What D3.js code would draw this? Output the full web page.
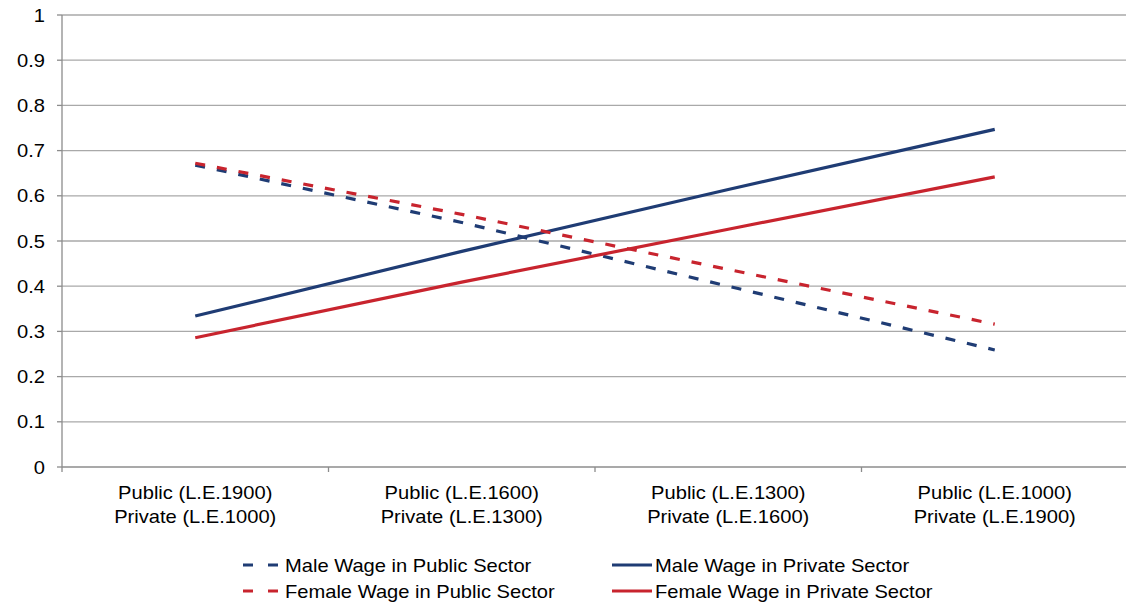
<!DOCTYPE html>
<html><head><meta charset="utf-8">
<script src="https://cdn.jsdelivr.net/npm/d3@7"></script>
<style>body{margin:0;background:#fff}svg{display:block}text{font-family:"Liberation Sans",Arial,sans-serif;fill:#000}</style>
</head><body><svg id="c" width="1126" height="605"></svg>
<script>
const categories = [["Public (L.E.1900)","Private (L.E.1000)"],["Public (L.E.1600)","Private (L.E.1300)"],["Public (L.E.1300)","Private (L.E.1600)"],["Public (L.E.1000)","Private (L.E.1900)"]];
const maleWagePublic = [0.668, 0.541, 0.400, 0.259];
const femaleWagePublic = [0.672, 0.559, 0.437, 0.316];
const maleWagePrivate = [0.334, 0.477, 0.614, 0.747];
const femaleWagePrivate = [0.286, 0.409, 0.526, 0.642];
const yTicks = [0,0.1,0.2,0.3,0.4,0.5,0.6,0.7,0.8,0.9,1];
const yTickLabels = ["0","0.1","0.2","0.3","0.4","0.5","0.6","0.7","0.8","0.9","1"];
const seriesNames = ["Male Wage in Public Sector","Male Wage in Private Sector","Female Wage in Public Sector","Female Wage in Private Sector"];

const BLUE="#1F3C74", RED="#C8242E";
const series = [
 {name:seriesNames[0], values:maleWagePublic, color:BLUE, dash:"10,12"},
 {name:seriesNames[1], values:maleWagePrivate, color:BLUE, dash:null},
 {name:seriesNames[2], values:femaleWagePublic, color:RED, dash:"10,12"},
 {name:seriesNames[3], values:femaleWagePrivate, color:RED, dash:null}
];
const SX=1.15, FS=17.5;
const svg=d3.select("#c");
const L=62, R=1128, T=15, B=467;
const x=d3.scaleBand().domain(d3.range(categories.length)).range([L,R]);
const y=d3.scaleLinear().domain([0,1]).range([B,T]);

// gridlines
svg.append("g").selectAll("line").data(yTicks.filter(d=>d>0)).join("line")
 .attr("x1",L).attr("x2",1126).attr("y1",d=>y(d)).attr("y2",d=>y(d))
 .attr("stroke","#A9A9A9").attr("stroke-width",1.3);
// y axis
svg.append("line").attr("x1",L).attr("x2",L).attr("y1",T).attr("y2",B).attr("stroke","#8C8C8C").attr("stroke-width",1.3);
svg.append("g").selectAll("line").data(yTicks).join("line")
 .attr("x1",L-5).attr("x2",L).attr("y1",d=>y(d)).attr("y2",d=>y(d)).attr("stroke","#8C8C8C").attr("stroke-width",1.3);
svg.append("g").selectAll("text").data(yTicks).join("text")
 .attr("transform",d=>`translate(45,${y(d)+6.5}) scale(${SX},1)`)
 .attr("text-anchor","end").attr("font-size",FS).text((d,i)=>yTickLabels[i]);
// x axis
svg.append("line").attr("x1",L).attr("x2",1126).attr("y1",B).attr("y2",B).attr("stroke","#8C8C8C").attr("stroke-width",1.3);
svg.append("g").selectAll("line").data(d3.range(categories.length+1)).join("line")
 .attr("x1",d=>L+d*x.bandwidth()).attr("x2",d=>L+d*x.bandwidth()).attr("y1",B).attr("y2",B+5).attr("stroke","#8C8C8C").attr("stroke-width",1.3);
const cg=svg.append("g").selectAll("g").data(categories).join("g");
cg.each(function(c,i){
  const g=d3.select(this);
  c.forEach((t,j)=>g.append("text").attr("transform",`translate(${x(i)+x.bandwidth()/2},${498.5+j*24}) scale(${SX},1)`)
   .attr("text-anchor","middle").attr("font-size",FS).text(t));
});
// lines
const line=d3.line().x((d,i)=>x(i)+x.bandwidth()/2).y(d=>y(d));
svg.append("g").selectAll("path").data(series).join("path")
 .attr("d",s=>line(s.values)).attr("fill","none").attr("stroke",s=>s.color).attr("stroke-width",3.2)
 .attr("stroke-dasharray",s=>s.dash);
// legend
const legPos=[[243,565],[612,565],[243,591],[612,591]];
const lg=svg.append("g").selectAll("g").data(series).join("g").attr("transform",(s,i)=>`translate(${legPos[i][0]},${legPos[i][1]})`);
lg.append("line").attr("x1",0).attr("x2",(s,i)=>i%2?40:35).attr("y1",0).attr("y2",0).attr("stroke",s=>s.color).attr("stroke-width",3.2)
 .attr("stroke-dasharray",s=>s.dash?"10,15":null);
lg.append("text").attr("transform",(s,i)=>`translate(${i%2?43:42},6.5) scale(${SX},1)`).attr("font-size",FS).text(s=>s.name);
</script></body></html>
